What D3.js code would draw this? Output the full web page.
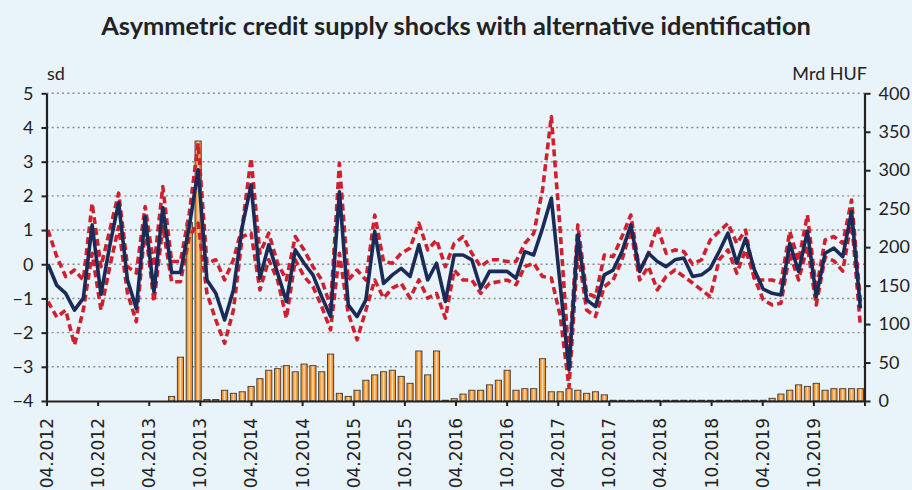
<!DOCTYPE html>
<html>
<head>
<meta charset="utf-8">
<script src="https://cdn.jsdelivr.net/npm/d3@7"></script>
<style>
  body { margin: 0; background: #e9f3fa; }
  svg { display: block; }
</style>
</head>
<body>
<svg id="chart"></svg>
<script>
// monthly data 04.2012 - 12.2019
const months = d3.timeMonth.range(new Date(2012, 3, 1), new Date(2020, 0, 1));

const tickLabels = ['04.2012', '10.2012', '04.2013', '10.2013', '04.2014', '10.2014', '04.2015', '10.2015',
    '04.2016', '10.2016', '04.2017', '10.2017', '04.2018', '10.2018', '04.2019', '10.2019'];

// shock estimate (sd, left axis)
const shock = [0.00, -0.62, -0.85, -1.34, -0.99, 1.15, -0.88, 0.55, 1.80, -0.46,
    -1.29, 1.39, -0.81, 1.66, -0.24, -0.24, 1.10, 2.76, -0.46, -0.85,
    -1.63, -0.75, 1.10, 2.32, -0.41, 0.57, -0.26, -1.09, 0.42, 0.03,
    -0.31, -0.95, -1.53, 2.12, -1.19, -1.53, -1.04, 0.96, -0.56, -0.31,
    -0.12, -0.36, 0.57, -0.46, 0.03, -1.09, 0.27, 0.27, 0.13, -0.70,
    -0.21, -0.21, -0.21, -0.41, 0.37, 0.27, 1.05, 1.93, -0.60, -3.09,
    0.86, -1.04, -1.24, -0.31, -0.17, 0.37, 1.15, -0.21, 0.32, 0.08,
    -0.07, 0.13, 0.18, -0.36, -0.31, -0.12, 0.37, 0.91, 0.03, 0.76,
    -0.17, -0.73, -0.85, -0.90, 0.61, -0.21, 0.96, -0.95, 0.32, 0.47,
    0.22, 1.54, -1.29];

// upper band (sd)
const upper = [1.00, 0.22, -0.36, -0.17, -0.46, 1.78, -0.07, 1.00, 2.08, -0.07,
    -0.26, 1.69, -0.07, 2.27, 0.08, 0.08, 1.49, 3.54, 0.03, 0.13,
    -0.46, 0.13, 1.10, 3.10, 0.32, 0.91, 0.03, -0.46, 0.81, 0.42,
    -0.07, -0.46, -1.24, 2.95, -0.46, -0.17, -0.46, 1.44, 0.08, 0.03,
    0.32, 0.47, 1.20, 0.42, 0.71, -0.07, 0.61, 0.81, 0.32, -0.07,
    0.13, 0.13, 0.08, 0.08, 0.61, 0.90, 2.17, 4.32, 1.00, -2.80,
    1.15, -0.85, -0.95, 0.27, 0.22, 0.81, 1.44, -0.20, 0.32, 1.10,
    0.32, 0.42, 0.37, 0.00, 0.13, 0.71, 0.96, 1.20, 0.61, 1.00,
    -0.46, -0.46, -0.46, -0.55, 0.96, 0.10, 1.44, -0.75, 0.71, 0.81,
    0.61, 1.88, -1.10];

// lower band (sd)
const lower = [-1.09, -1.55, -1.34, -2.36, -1.34, 0.32, -1.34, -0.07, 1.10, -0.85,
    -1.68, 1.10, -1.09, 1.10, -0.51, -0.51, 0.81, 1.20, -0.85, -1.63,
    -2.31, -1.34, 0.81, 0.91, -0.75, 0.13, -0.46, -1.58, 0.13, -0.36,
    -0.65, -1.24, -1.92, 0.32, -1.43, -2.21, -1.34, -0.46, -0.99, -0.70,
    -0.56, -0.99, -0.46, -0.99, -0.85, -1.58, -0.17, -0.46, -0.46, -0.85,
    -0.56, -0.51, -0.46, -0.60, -0.07, 0.03, -0.36, -0.40, -1.50, -3.60,
    0.40, -1.34, -1.53, -0.65, -0.46, 0.13, 1.00, -0.46, -0.07, -0.75,
    -0.36, -0.17, -0.36, -0.55, -0.75, -0.95, 0.13, 0.42, -0.26, 0.42,
    -0.40, -1.04, -1.19, -1.14, 0.32, -0.46, 0.52, -1.19, 0.20, 0.10,
    -0.20, 1.30, -1.82];

// volume (Mrd HUF, right axis)
const volume = [0, 0, 0, 0, 0, 0, 0, 0, 0, 0,
    0, 0, 0, 0, 6, 57, 232, 338, 2, 2,
    14, 10, 12, 19, 29, 40, 42, 46, 38, 48,
    46, 38, 61, 10, 6, 14, 27, 34, 38, 40,
    32, 23, 65, 34, 65, 1, 3, 9, 14, 14,
    21, 27, 40, 14, 16, 16, 55, 12, 12, 16,
    14, 10, 12, 8, 1, 1, 1, 1, 1, 1,
    1, 1, 1, 1, 1, 1, 1, 1, 1, 1,
    1, 1, 3.5, 9, 14, 21, 19, 23, 14, 16,
    16, 16, 16];

class ShockChart {
    constructor(config) {
        this.config = {
            parent: config.parent,
            width: config.width || 912,
            height: config.height || 490,
            margin: config.margin || {top: 93.3, right: 47.5, bottom: 89, left: 46.5},
        };
        this.init();
    }

    init() {
        let self = this;

        self.svg = d3.select(self.config.parent)
            .attr('width', self.config.width)
            .attr('height', self.config.height);

        self.svg.append('rect')
            .attr('width', self.config.width)
            .attr('height', self.config.height)
            .attr('fill', '#e9f3fa');

        const grad = self.svg.append('defs').append('linearGradient')
            .attr('id', 'bar-grad')
            .attr('x1', 0).attr('x2', 1).attr('y1', 0).attr('y2', 0);
        [[0, '#f28a1c'], [0.3, '#f6a040'], [0.5, '#fde0b8'], [0.7, '#f6a040'], [1, '#f28a1c']]
            .forEach(s => grad.append('stop').attr('offset', s[0]).attr('stop-color', s[1]));

        self.inner_width = self.config.width - self.config.margin.left - self.config.margin.right;
        self.inner_height = self.config.height - self.config.margin.top - self.config.margin.bottom;

        self.chart = self.svg.append('g')
            .attr('transform', `translate(${self.config.margin.left}, ${self.config.margin.top})`);

        self.xscale = d3.scalePoint()
            .domain(d3.range(months.length))
            .range([1.5, self.inner_width - 4.1]);

        self.label_scale = d3.scaleLinear()
            .domain([0, tickLabels.length])
            .range([0, self.inner_width]);

        self.yscale = d3.scaleLinear()
            .domain([-4, 5])
            .range([self.inner_height, 0]);

        self.y2scale = d3.scaleLinear()
            .domain([0, 400])
            .range([self.inner_height, 0]);

        // title
        const t = self.svg.append('text')
            .attr('x', self.config.width / 2)
            .attr('y', 35)
            .attr('text-anchor', 'middle')
            .attr('font-family', 'Lato, sans-serif')
            .attr('font-weight', 700)
            .attr('font-size', 21)
            .attr('fill', '#222')
            .text(title);
        const len = t.node().getComputedTextLength();
        t.attr('font-size', 21 * 710 / len);

        self.svg.append('text')
            .attr('x', 47)
            .attr('y', 80)
            .attr('font-family', 'Lato, sans-serif')
            .attr('font-size', 18)
            .attr('fill', '#222')
            .text('sd');

        self.svg.append('text')
            .attr('x', 867)
            .attr('y', 80)
            .attr('text-anchor', 'end')
            .attr('font-family', 'Lato, sans-serif')
            .attr('font-size', 18)
            .attr('fill', '#222')
            .text('Mrd HUF');
    }

    render() {
        let self = this;
        const ih = self.inner_height;

        // dotted grid
        self.chart.append('g')
            .selectAll('line')
            .data(d3.range(-3, 6))
            .join('line')
            .attr('x1', 0)
            .attr('x2', self.inner_width)
            .attr('y1', d => self.yscale(d))
            .attr('y2', d => self.yscale(d))
            .attr('stroke', '#8c8c8c')
            .attr('stroke-width', 1.4)
            .attr('stroke-dasharray', '2,3.2');

        // bars
        const bw = 6.2;
        self.chart.append('g')
            .selectAll('rect')
            .data(volume.map((v, i) => ({i: i, v: v})).filter(d => d.v > 0))
            .join('rect')
            .attr('x', d => self.xscale(d.i) - bw / 2)
            .attr('y', d => self.y2scale(d.v))
            .attr('width', bw)
            .attr('height', d => ih - self.y2scale(d.v))
            .attr('fill', 'url(#bar-grad)')
            .attr('stroke', '#3a3a3a')
            .attr('stroke-width', 0.9);

        const line = d3.line()
            .x((d, i) => self.xscale(i))
            .y(d => self.yscale(d));

        [lower, upper].forEach(arr => {
            self.chart.append('path')
                .datum(arr)
                .attr('d', line)
                .attr('fill', 'none')
                .attr('stroke', '#d0202e')
                .attr('stroke-width', 3.6)
                .attr('stroke-dasharray', '7,4')
                .attr('stroke-linejoin', 'round');
        });

        self.chart.append('path')
            .datum(shock)
            .attr('d', line)
            .attr('fill', 'none')
            .attr('stroke', '#1b2b57')
            .attr('stroke-width', 3.6)
            .attr('stroke-linejoin', 'round');

        // axes
        const yaxis = d3.axisLeft(self.yscale)
            .tickValues(d3.range(-4, 6))
            .tickSize(5)
            .tickPadding(8)
            .tickSizeOuter(0);

        const y2axis = d3.axisRight(self.y2scale)
            .tickValues(d3.range(0, 401, 50))
            .tickSize(6)
            .tickPadding(8)
            .tickSizeOuter(0);

        const xaxis = d3.axisBottom(self.label_scale)
            .tickValues(d3.range(tickLabels.length + 1))
            .tickFormat(i => tickLabels[i] || '')
            .tickSize(5)
            .tickSizeOuter(0);

        const ygroup = self.chart.append('g').call(yaxis);
        const y2group = self.chart.append('g')
            .attr('transform', `translate(${self.inner_width}, 0)`)
            .call(y2axis);
        const xgroup = self.chart.append('g')
            .attr('transform', `translate(0, ${ih})`)
            .call(xaxis);

        [ygroup, y2group, xgroup].forEach(g => {
            g.select('.domain').attr('stroke', '#222').attr('stroke-width', 2.2);
            g.selectAll('.tick line').attr('stroke', '#222').attr('stroke-width', 2);
        });

        [ygroup, y2group].forEach(g => {
            g.selectAll('text')
                .attr('font-family', 'Lato, sans-serif')
                .attr('font-size', 18)
                .attr('fill', '#222');
        });

        xgroup.selectAll('text')
            .attr('transform', 'rotate(-90)')
            .attr('text-anchor', 'end')
            .attr('x', -17)
            .attr('y', 0)
            .attr('dy', '0.35em')
            .attr('font-family', 'DejaVu Sans, sans-serif')
            .attr('font-size', 17)
            .attr('fill', '#222');
    }
}

const title = 'Asymmetric credit supply shocks with alternative identification';

const chart = new ShockChart({parent: '#chart'});
chart.render();
</script>
</body>
</html>
